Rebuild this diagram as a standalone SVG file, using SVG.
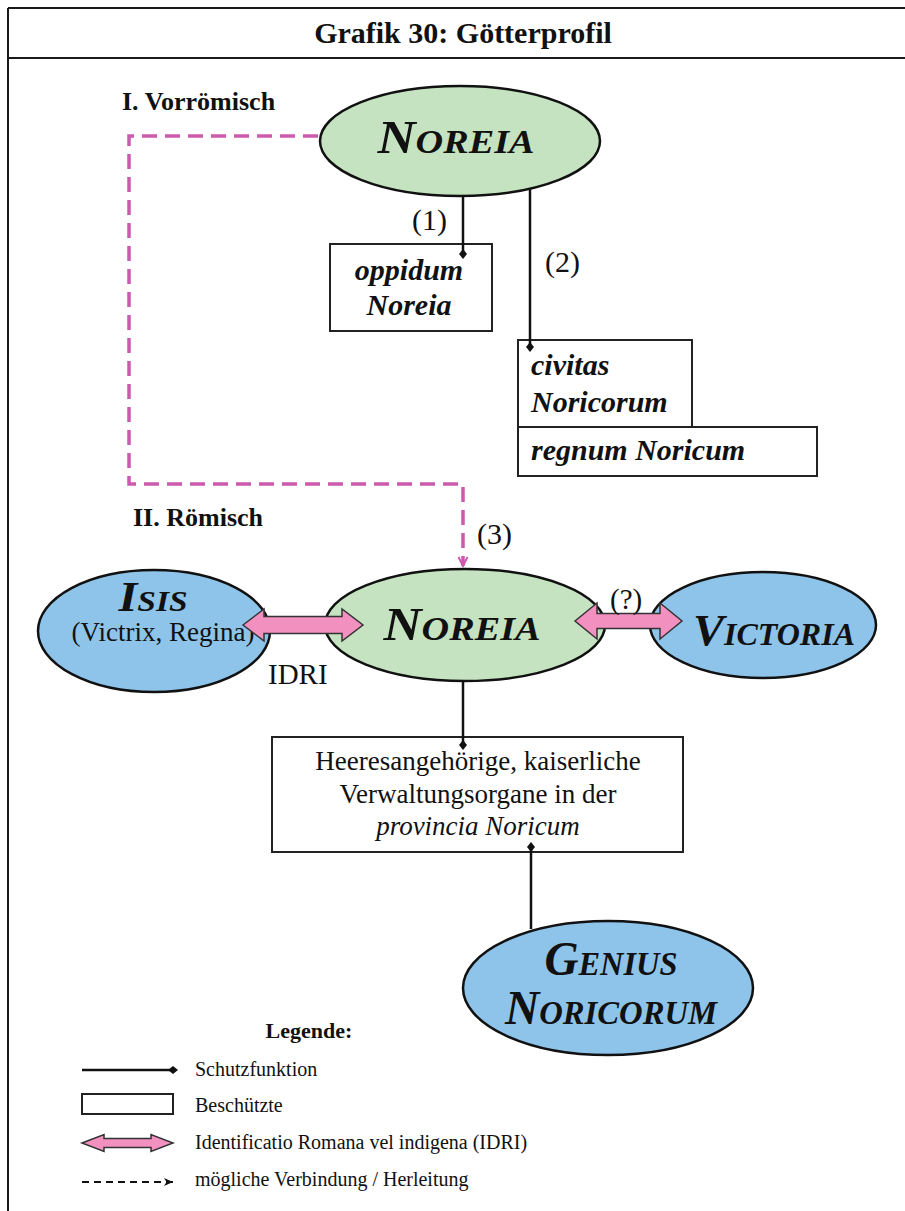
<svg xmlns="http://www.w3.org/2000/svg" width="905" height="1211" viewBox="0 0 905 1211">
<style>
.frame{stroke:#1a1a1a;stroke-width:2;fill:none}
.serif{font-family:"Liberation Serif","Times New Roman",serif;fill:#111}
.b{font-weight:bold}
.i{font-style:italic}
.ell{stroke:#111;stroke-width:2.5}
.green{fill:#c5e3c1}
.blue{fill:#8ec4ea}
.box{fill:#fff;stroke:#222;stroke-width:2}
.prot{stroke:#111;stroke-width:2.5;fill:none;marker-end:url(#dia)}
.idri{fill:#f291c0;stroke:#333;stroke-width:1.5}
.dash{stroke:#cc5aae;stroke-width:3.5;fill:none;stroke-dasharray:15 8}
.sc{font-weight:bold;font-style:italic}
</style>
<defs>
<marker id="dia" viewBox="-6 -6 12 12" refX="0" refY="0" markerWidth="12" markerHeight="12" markerUnits="userSpaceOnUse" orient="auto">
<path d="M-5,0 L0,-4 L5,0 L0,4 Z" fill="#111"/>
</marker>
<marker id="mag" viewBox="0 0 12 12" refX="10" refY="6" markerWidth="12" markerHeight="12" markerUnits="userSpaceOnUse" orient="auto">
<path d="M1,1.5 L10,6 L1,10.5" fill="none" stroke="#cc5aae" stroke-width="2"/>
</marker>
<marker id="blk" viewBox="0 0 10 10" refX="9" refY="5" markerWidth="10" markerHeight="10" markerUnits="userSpaceOnUse" orient="auto">
<path d="M0,1 L9,5 L0,9 L2.5,5 Z" fill="#111"/>
</marker>
</defs>
<rect width="905" height="1211" fill="#fff"/>
<g id="frame">
<path class="frame" d="M8,8 H905 M8,58 H905 M8,8 V1211"/>
<text class="serif b" x="463" y="43" font-size="30" text-anchor="middle">Grafik 30: Götterprofil</text>
</g>
<g id="labels">
<text class="serif b" x="122" y="110" font-size="26">I. Vorrömisch</text>
<text class="serif b" x="133" y="526" font-size="26">II. Römisch</text>
</g>
<g id="noreia-top">
<ellipse class="ell green" cx="460" cy="141" rx="140" ry="55"/>
<text class="serif sc" x="456" y="153" text-anchor="middle" textLength="157" lengthAdjust="spacingAndGlyphs"><tspan font-size="47">N</tspan><tspan font-size="34">OREIA</tspan></text>
</g>
<g id="oppidum">
<rect class="box" x="330" y="244" width="162" height="87"/>
<text class="serif b i" x="409" y="280" font-size="30" text-anchor="middle">oppidum</text>
<text class="serif b i" x="409" y="315" font-size="30" text-anchor="middle">Noreia</text>
</g>
<g id="civitas">
<rect class="box" x="518" y="340" width="174" height="87"/>
<text class="serif b i" x="531" y="375" font-size="30">civitas</text>
<text class="serif b i" x="531" y="412" font-size="30">Noricorum</text>
</g>
<g id="regnum">
<rect class="box" x="518" y="427" width="299" height="49"/>
<text class="serif b i" x="531" y="460" font-size="30">regnum Noricum</text>
</g>
<g id="isis">
<ellipse class="ell blue" cx="154" cy="631" rx="116" ry="61"/>
<text class="serif sc" x="153" y="611" text-anchor="middle" textLength="69" lengthAdjust="spacingAndGlyphs"><tspan font-size="42">I</tspan><tspan font-size="29">SIS</tspan></text>
<text class="serif" x="163" y="641" font-size="27" text-anchor="middle">(Victrix, Regina)</text>
</g>
<g id="noreia-mid">
<ellipse class="ell green" cx="465" cy="625" rx="140" ry="56"/>
<text class="serif sc" x="462" y="640" text-anchor="middle" textLength="157" lengthAdjust="spacingAndGlyphs"><tspan font-size="47">N</tspan><tspan font-size="34">OREIA</tspan></text>
</g>
<g id="victoria">
<ellipse class="ell blue" cx="763" cy="625" rx="113" ry="53"/>
<text class="serif sc" x="774" y="645" text-anchor="middle" textLength="162" lengthAdjust="spacingAndGlyphs"><tspan font-size="45">V</tspan><tspan font-size="31">ICTORIA</tspan></text>
</g>
<g id="heeres">
<rect class="box" x="272" y="737" width="411" height="115"/>
<text class="serif" x="478" y="770" font-size="27" text-anchor="middle">Heeresangehörige, kaiserliche</text>
<text class="serif" x="478" y="803" font-size="27" text-anchor="middle">Verwaltungsorgane in der</text>
<text class="serif i" x="478" y="835" font-size="27" text-anchor="middle">provincia Noricum</text>
</g>
<g id="genius">
<ellipse class="ell blue" cx="608" cy="988" rx="145" ry="67"/>
<text class="serif sc" x="611" y="975" text-anchor="middle" textLength="133" lengthAdjust="spacingAndGlyphs"><tspan font-size="48">G</tspan><tspan font-size="33">ENIUS</tspan></text>
<text class="serif sc" x="611" y="1024" text-anchor="middle" textLength="212" lengthAdjust="spacingAndGlyphs"><tspan font-size="48">N</tspan><tspan font-size="33">ORICORUM</tspan></text>
</g>
<g id="connectors">
<path class="dash" d="M318,136 H129 V484 H463 V566" marker-end="url(#mag)"/>
<path class="prot" d="M463,196 V254"/>
<path class="prot" d="M530,189 V347"/>
<path class="prot" d="M463,681 V745"/>
<path class="prot" d="M531,929 V847"/>
<polygon class="idri" points="243,625 264,609 264,616.5 342,616.5 342,609 363,625 342,641 342,633.5 264,633.5 264,641"/>
<polygon class="idri" points="575,621 597,603 597,613.5 660,613.5 660,603 682,621 660,639 660,628.5 597,628.5 597,639"/>
<text class="serif" x="412" y="230" font-size="30">(1)</text>
<text class="serif" x="545" y="272" font-size="30">(2)</text>
<text class="serif" x="477" y="544" font-size="30">(3)</text>
<text class="serif" x="610" y="609" font-size="29">(?)</text>
<text class="serif" x="268" y="684" font-size="29">IDRI</text>
</g>
<g id="legend">
<text class="serif b" x="309" y="1038" font-size="22" text-anchor="middle">Legende:</text>
<path class="prot" d="M82,1070 H173" stroke-width="2"/>
<text class="serif" x="195" y="1076" font-size="20">Schutzfunktion</text>
<rect class="box" x="82" y="1094" width="91" height="20" stroke-width="1.5"/>
<text class="serif" x="195" y="1112" font-size="20">Beschützte</text>
<polygon class="idri" points="82,1143 104,1134.5 104,1138.5 151,1138.5 151,1134.5 173,1143 151,1151.5 151,1147.5 104,1147.5 104,1151.5"/>
<text class="serif" x="195" y="1149" font-size="20">Identificatio Romana vel indigena (IDRI)</text>
<path d="M82,1182 H173" stroke="#111" stroke-width="1.8" stroke-dasharray="7 5" fill="none" marker-end="url(#blk)"/>
<text class="serif" x="195" y="1186" font-size="20">mögliche Verbindung / Herleitung</text>
</g>
</svg>
